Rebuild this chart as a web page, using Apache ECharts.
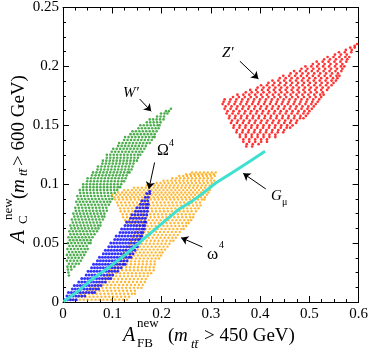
<!DOCTYPE html>
<html>
<head>
<meta charset="utf-8">
<script src="https://cdn.jsdelivr.net/npm/echarts@6/dist/echarts.min.js"></script>
<style>
  html, body { margin: 0; padding: 0; background: #fff; }
  #chart { width: 371px; height: 352px; }
</style>
</head>
<body>
<div id="chart"></div>
<script>
// W' scan points
var wPrime = [
  [.012,.0225],[.011,.025],
  [.010,.0275],[.017,.0275],
  [.009,.030],[.016,.030],[.023,.030],
  [.012,.0325],[.019,.0325],[.026,.0325],[.032,.0325],
  [.008,.035],[.015,.035],[.022,.035],[.029,.035],[.036,.035],
  [.011,.0375],[.018,.0375],[.025,.0375],[.032,.0375],[.039,.0375],
  [.008,.040],[.015,.040],[.022,.040],[.029,.040],[.036,.040],[.043,.040],
  [.012,.0425],[.019,.0425],[.026,.0425],[.033,.0425],[.040,.0425],[.046,.0425],
  [.009,.045],[.016,.045],[.023,.045],[.030,.045],[.037,.045],[.044,.045],[.050,.045],
  [.013,.0475],[.020,.0475],[.027,.0475],[.034,.0475],[.041,.0475],[.048,.0475],
  [.010,.050],[.017,.050],[.024,.050],[.031,.050],[.038,.050],[.045,.050],[.052,.050],[.056,.050],
  [.014,.0525],[.021,.0525],[.028,.0525],[.035,.0525],[.042,.0525],[.049,.0525],[.056,.0525],
  [.011,.055],[.018,.055],[.025,.055],[.032,.055],[.039,.055],[.046,.055],[.053,.055],[.060,.055],
  [.015,.0575],[.022,.0575],[.029,.0575],[.036,.0575],[.043,.0575],[.050,.0575],[.057,.0575],[.064,.0575],
  [.013,.060],[.020,.060],[.027,.060],[.034,.060],[.041,.060],[.048,.060],[.055,.060],[.062,.060],[.069,.060],
  [.017,.0625],[.024,.0625],[.031,.0625],[.038,.0625],[.045,.0625],[.052,.0625],[.059,.0625],[.066,.0625],[.072,.0625],
  [.015,.065],[.022,.065],[.029,.065],[.036,.065],[.043,.065],[.050,.065],[.057,.065],[.064,.065],[.071,.065],[.076,.065],
  [.020,.0675],[.027,.0675],[.034,.0675],[.041,.0675],[.048,.0675],[.055,.0675],[.062,.0675],[.069,.0675],[.076,.0675],
  [.018,.070],[.025,.070],[.032,.070],[.039,.070],[.046,.070],[.053,.070],[.060,.070],[.067,.070],[.074,.070],[.081,.070],
  [.023,.0725],[.030,.0725],[.037,.0725],[.044,.0725],[.051,.0725],[.058,.0725],[.065,.0725],[.072,.0725],[.079,.0725],[.084,.0725],
  [.021,.075],[.028,.075],[.035,.075],[.042,.075],[.049,.075],[.056,.075],[.063,.075],[.070,.075],[.077,.075],[.084,.075],
  [.026,.0775],[.033,.0775],[.040,.0775],[.047,.0775],[.054,.0775],[.061,.0775],[.068,.0775],[.075,.0775],[.082,.0775],[.089,.0775],
  [.025,.080],[.032,.080],[.039,.080],[.046,.080],[.053,.080],[.060,.080],[.067,.080],[.074,.080],[.081,.080],[.088,.080],
  [.030,.0825],[.037,.0825],[.044,.0825],[.051,.0825],[.058,.0825],[.065,.0825],[.072,.0825],[.079,.0825],[.086,.0825],[.093,.0825],
  [.027,.085],[.034,.085],[.041,.085],[.048,.085],[.055,.085],[.062,.085],[.069,.085],[.076,.085],[.083,.085],[.090,.085],[.096,.085],
  [.031,.0875],[.038,.0875],[.045,.0875],[.052,.0875],[.059,.0875],[.066,.0875],[.073,.0875],[.080,.0875],[.087,.0875],[.094,.0875],[.100,.0875],
  [.029,.090],[.036,.090],[.043,.090],[.050,.090],[.057,.090],[.064,.090],[.071,.090],[.078,.090],[.085,.090],[.092,.090],[.099,.090],
  [.035,.0925],[.042,.0925],[.049,.0925],[.056,.0925],[.063,.0925],[.070,.0925],[.077,.0925],[.084,.0925],[.091,.0925],[.098,.0925],[.105,.0925],
  [.034,.095],[.041,.095],[.048,.095],[.055,.095],[.062,.095],[.069,.095],[.076,.095],[.083,.095],[.090,.095],[.097,.095],[.104,.095],[.110,.095],
  [.041,.0975],[.048,.0975],[.055,.0975],[.062,.0975],[.069,.0975],[.076,.0975],[.083,.0975],[.090,.0975],[.097,.0975],[.104,.0975],[.111,.0975],[.116,.0975],
  [.041,.100],[.048,.100],[.055,.100],[.062,.100],[.069,.100],[.076,.100],[.083,.100],[.090,.100],[.097,.100],[.104,.100],[.111,.100],[.118,.100],
  [.049,.1025],[.056,.1025],[.063,.1025],[.070,.1025],[.077,.1025],[.084,.1025],[.091,.1025],[.098,.1025],[.105,.1025],[.112,.1025],[.119,.1025],[.124,.1025],
  [.050,.105],[.057,.105],[.064,.105],[.071,.105],[.078,.105],[.085,.105],[.092,.105],[.099,.105],[.106,.105],[.113,.105],[.120,.105],[.127,.105],
  [.059,.1075],[.066,.1075],[.073,.1075],[.080,.1075],[.087,.1075],[.094,.1075],[.101,.1075],[.108,.1075],[.115,.1075],[.122,.1075],[.129,.1075],
  [.061,.110],[.068,.110],[.075,.110],[.082,.110],[.089,.110],[.096,.110],[.103,.110],[.110,.110],[.117,.110],[.124,.110],[.131,.110],[.135,.110],
  [.070,.1125],[.077,.1125],[.084,.1125],[.091,.1125],[.098,.1125],[.105,.1125],[.112,.1125],[.119,.1125],[.126,.1125],[.133,.1125],[.139,.1125],
  [.071,.115],[.078,.115],[.085,.115],[.092,.115],[.099,.115],[.106,.115],[.113,.115],[.120,.115],[.127,.115],[.134,.115],[.141,.115],
  [.080,.1175],[.087,.1175],[.094,.1175],[.101,.1175],[.108,.1175],[.115,.1175],[.122,.1175],[.129,.1175],[.136,.1175],[.143,.1175],
  [.081,.120],[.088,.120],[.095,.120],[.102,.120],[.109,.120],[.116,.120],[.123,.120],[.130,.120],[.137,.120],[.144,.120],[.150,.120],
  [.089,.1225],[.096,.1225],[.103,.1225],[.110,.1225],[.117,.1225],[.124,.1225],[.131,.1225],[.138,.1225],[.145,.1225],[.152,.1225],
  [.089,.125],[.096,.125],[.103,.125],[.110,.125],[.117,.125],[.124,.125],[.131,.125],[.138,.125],[.145,.125],[.152,.125],[.157,.125],
  [.099,.1275],[.106,.1275],[.113,.1275],[.120,.1275],[.127,.1275],[.134,.1275],[.141,.1275],[.148,.1275],[.155,.1275],[.161,.1275],
  [.102,.130],[.109,.130],[.116,.130],[.123,.130],[.130,.130],[.137,.130],[.144,.130],[.151,.130],[.158,.130],[.165,.130],
  [.112,.1325],[.119,.1325],[.126,.1325],[.133,.1325],[.140,.1325],[.147,.1325],[.154,.1325],[.161,.1325],[.168,.1325],
  [.114,.135],[.121,.135],[.128,.135],[.135,.135],[.142,.135],[.149,.135],[.156,.135],[.163,.135],[.170,.135],[.176,.135],
  [.124,.1375],[.131,.1375],[.138,.1375],[.145,.1375],[.152,.1375],[.159,.1375],[.166,.1375],[.173,.1375],[.180,.1375],
  [.126,.140],[.133,.140],[.140,.140],[.147,.140],[.154,.140],[.161,.140],[.168,.140],[.175,.140],[.182,.140],[.186,.140],
  [.137,.1425],[.144,.1425],[.151,.1425],[.158,.1425],[.165,.1425],[.172,.1425],[.179,.1425],[.186,.1425],
  [.141,.145],[.148,.145],[.155,.145],[.162,.145],[.169,.145],[.176,.145],[.183,.145],[.190,.145],
  [.153,.1475],[.160,.1475],[.167,.1475],[.174,.1475],[.181,.1475],[.188,.1475],[.194,.1475],
  [.157,.150],[.164,.150],[.171,.150],[.178,.150],[.185,.150],[.192,.150],[.196,.150],
  [.170,.1525],[.177,.1525],[.184,.1525],[.191,.1525],[.198,.1525],
  [.176,.155],[.183,.155],[.190,.155],[.197,.155],[.204,.155],
  [.191,.1575],[.198,.1575],[.205,.1575],
  [.199,.160],[.206,.160],[.212,.160],
  [.209,.162],[.215,.162],
  [.219,.164]
];

// omega^4 scan points
var omegaSmall = [
  [.018,.002],[.026,.002],[.034,.002],[.042,.002],[.050,.002],[.058,.002],[.066,.002],[.074,.002],[.082,.002],[.090,.002],[.098,.002],[.106,.002],[.114,.002],[.122,.002],[.130,.002],
  [.030,.0045],[.038,.0045],[.046,.0045],[.054,.0045],[.062,.0045],[.070,.0045],[.078,.0045],[.086,.0045],[.094,.0045],[.102,.0045],[.110,.0045],[.118,.0045],[.126,.0045],[.134,.0045],
  [.036,.007],[.044,.007],[.052,.007],[.060,.007],[.068,.007],[.076,.007],[.084,.007],[.092,.007],[.100,.007],[.108,.007],[.116,.007],[.124,.007],[.132,.007],[.140,.007],[.146,.007],
  [.050,.0095],[.058,.0095],[.066,.0095],[.074,.0095],[.082,.0095],[.090,.0095],[.098,.0095],[.106,.0095],[.114,.0095],[.122,.0095],[.130,.0095],[.138,.0095],[.146,.0095],
  [.056,.012],[.064,.012],[.072,.012],[.080,.012],[.088,.012],[.096,.012],[.104,.012],[.112,.012],[.120,.012],[.128,.012],[.136,.012],[.144,.012],[.152,.012],[.159,.012],
  [.066,.0145],[.074,.0145],[.082,.0145],[.090,.0145],[.098,.0145],[.106,.0145],[.114,.0145],[.122,.0145],[.130,.0145],[.138,.0145],[.146,.0145],[.154,.0145],[.162,.0145],
  [.070,.017],[.078,.017],[.086,.017],[.094,.017],[.102,.017],[.110,.017],[.118,.017],[.126,.017],[.134,.017],[.142,.017],[.150,.017],[.158,.017],[.166,.017],
  [.080,.0195],[.088,.0195],[.096,.0195],[.104,.0195],[.112,.0195],[.120,.0195],[.128,.0195],[.136,.0195],[.144,.0195],[.152,.0195],[.160,.0195],[.168,.0195],
  [.084,.022],[.092,.022],[.100,.022],[.108,.022],[.116,.022],[.124,.022],[.132,.022],[.140,.022],[.148,.022],[.156,.022],[.164,.022],[.172,.022],
  [.092,.0245],[.100,.0245],[.108,.0245],[.116,.0245],[.124,.0245],[.132,.0245],[.140,.0245],[.148,.0245],[.156,.0245],[.164,.0245],[.172,.0245],[.179,.0245],
  [.096,.027],[.104,.027],[.112,.027],[.120,.027],[.128,.027],[.136,.027],[.144,.027],[.152,.027],[.160,.027],[.168,.027],[.176,.027],[.184,.027],
  [.104,.0295],[.112,.0295],[.120,.0295],[.128,.0295],[.136,.0295],[.144,.0295],[.152,.0295],[.160,.0295],[.168,.0295],[.176,.0295],[.184,.0295],
  [.106,.032],[.114,.032],[.122,.032],[.130,.032],[.138,.032],[.146,.032],[.154,.032],[.162,.032],[.170,.032],[.178,.032],[.186,.032],
  [.114,.0345],[.122,.0345],[.130,.0345],[.138,.0345],[.146,.0345],[.154,.0345],[.162,.0345],[.170,.0345],[.178,.0345],[.186,.0345],
  [.116,.037],[.124,.037],[.132,.037],[.140,.037],[.148,.037],[.156,.037],[.164,.037],[.172,.037],[.180,.037],[.188,.037],[.195,.037],
  [.120,.0395],[.128,.0395],[.136,.0395],[.144,.0395],[.152,.0395],[.160,.0395],[.168,.0395],[.176,.0395],[.184,.0395],[.192,.0395],[.199,.0395],
  [.124,.042],[.132,.042],[.140,.042],[.148,.042],[.156,.042],[.164,.042],[.172,.042],[.180,.042],[.188,.042],[.196,.042],[.202,.042],
  [.128,.0445],[.136,.0445],[.144,.0445],[.152,.0445],[.160,.0445],[.168,.0445],[.176,.0445],[.184,.0445],[.192,.0445],[.200,.0445],[.207,.0445],
  [.132,.047],[.140,.047],[.148,.047],[.156,.047],[.164,.047],[.172,.047],[.180,.047],[.188,.047],[.196,.047],[.204,.047],[.212,.047],
  [.136,.0495],[.144,.0495],[.152,.0495],[.160,.0495],[.168,.0495],[.176,.0495],[.184,.0495],[.192,.0495],[.200,.0495],[.208,.0495],[.216,.0495],
  [.138,.052],[.146,.052],[.154,.052],[.162,.052],[.170,.052],[.178,.052],[.186,.052],[.194,.052],[.202,.052],[.210,.052],[.218,.052],[.224,.052],
  [.142,.0545],[.150,.0545],[.158,.0545],[.166,.0545],[.174,.0545],[.182,.0545],[.190,.0545],[.198,.0545],[.206,.0545],[.214,.0545],[.222,.0545],[.229,.0545],
  [.145,.057],[.153,.057],[.161,.057],[.169,.057],[.177,.057],[.185,.057],[.193,.057],[.201,.057],[.209,.057],[.217,.057],[.225,.057],[.233,.057],
  [.149,.0595],[.157,.0595],[.165,.0595],[.173,.0595],[.181,.0595],[.189,.0595],[.197,.0595],[.205,.0595],[.213,.0595],[.221,.0595],[.229,.0595],[.237,.0595],
  [.152,.062],[.160,.062],[.168,.062],[.176,.062],[.184,.062],[.192,.062],[.200,.062],[.208,.062],[.216,.062],[.224,.062],[.232,.062],[.240,.062],[.245,.062],
  [.148,.0645],[.156,.0645],[.164,.0645],[.172,.0645],[.180,.0645],[.188,.0645],[.196,.0645],[.204,.0645],[.212,.0645],[.220,.0645],[.228,.0645],[.236,.0645],[.244,.0645],[.250,.0645],
  [.130,.067],[.138,.067],[.146,.067],[.154,.067],[.162,.067],[.170,.067],[.178,.067],[.186,.067],[.194,.067],[.202,.067],[.210,.067],[.218,.067],[.226,.067],[.234,.067],[.242,.067],[.250,.067],[.255,.067],
  [.126,.0695],[.134,.0695],[.142,.0695],[.150,.0695],[.158,.0695],[.166,.0695],[.174,.0695],[.182,.0695],[.190,.0695],[.198,.0695],[.206,.0695],[.214,.0695],[.222,.0695],[.230,.0695],[.238,.0695],[.246,.0695],[.254,.0695],[.260,.0695],
  [.122,.072],[.130,.072],[.138,.072],[.146,.072],[.154,.072],[.162,.072],[.170,.072],[.178,.072],[.186,.072],[.194,.072],[.202,.072],[.210,.072],[.218,.072],[.226,.072],[.234,.072],[.242,.072],[.250,.072],[.258,.072],[.264,.072],
  [.121,.0745],[.129,.0745],[.137,.0745],[.145,.0745],[.153,.0745],[.161,.0745],[.169,.0745],[.177,.0745],[.185,.0745],[.193,.0745],[.201,.0745],[.209,.0745],[.217,.0745],[.225,.0745],[.233,.0745],[.241,.0745],[.249,.0745],[.257,.0745],[.265,.0745],
  [.117,.077],[.125,.077],[.133,.077],[.141,.077],[.149,.077],[.157,.077],[.165,.077],[.173,.077],[.181,.077],[.189,.077],[.197,.077],[.205,.077],[.213,.077],[.221,.077],[.229,.077],[.237,.077],[.245,.077],[.253,.077],[.261,.077],[.270,.077],
  [.116,.0795],[.124,.0795],[.132,.0795],[.140,.0795],[.148,.0795],[.156,.0795],[.164,.0795],[.172,.0795],[.180,.0795],[.188,.0795],[.196,.0795],[.204,.0795],[.212,.0795],[.220,.0795],[.228,.0795],[.236,.0795],[.244,.0795],[.252,.0795],[.260,.0795],[.268,.0795],[.275,.0795],
  [.112,.082],[.120,.082],[.128,.082],[.136,.082],[.144,.082],[.152,.082],[.160,.082],[.168,.082],[.176,.082],[.184,.082],[.192,.082],[.200,.082],[.208,.082],[.216,.082],[.224,.082],[.232,.082],[.240,.082],[.248,.082],[.256,.082],[.264,.082],[.272,.082],[.279,.082],
  [.110,.0845],[.118,.0845],[.126,.0845],[.134,.0845],[.142,.0845],[.150,.0845],[.158,.0845],[.166,.0845],[.174,.0845],[.182,.0845],[.190,.0845],[.198,.0845],[.206,.0845],[.214,.0845],[.222,.0845],[.230,.0845],[.238,.0845],[.246,.0845],[.254,.0845],[.262,.0845],[.270,.0845],[.278,.0845],
  [.106,.087],[.114,.087],[.122,.087],[.130,.087],[.138,.087],[.146,.087],[.154,.087],[.162,.087],[.170,.087],[.178,.087],[.186,.087],[.194,.087],[.202,.087],[.210,.087],[.218,.087],[.226,.087],[.234,.087],[.242,.087],[.250,.087],[.258,.087],[.266,.087],[.274,.087],[.282,.087],[.287,.087],
  [.104,.089],[.112,.089],[.120,.089],[.128,.089],[.136,.089],[.144,.089],[.152,.089],[.160,.089],[.168,.089],[.176,.089],[.184,.089],[.192,.089],[.200,.089],[.208,.089],[.216,.089],[.224,.089],[.232,.089],[.240,.089],[.248,.089],[.256,.089],[.264,.089],[.272,.089],[.280,.089],[.288,.089],
  [.100,.091],[.108,.091],[.116,.091],[.124,.091],[.132,.091],[.140,.091],[.148,.091],[.156,.091],[.164,.091],[.172,.091],[.180,.091],[.188,.091],[.196,.091],[.204,.091],[.212,.091],[.220,.091],[.228,.091],[.236,.091],[.244,.091],[.252,.091],[.260,.091],[.268,.091],[.276,.091],[.284,.091],[.292,.091],
  [.112,.093],[.120,.093],[.128,.093],[.136,.093],[.144,.093],[.152,.093],[.160,.093],[.168,.093],[.176,.093],[.184,.093],[.192,.093],[.200,.093],[.208,.093],[.216,.093],[.224,.093],[.232,.093],[.240,.093],[.248,.093],[.256,.093],[.264,.093],[.272,.093],[.280,.093],[.288,.093],[.295,.093],
  [.124,.095],[.132,.095],[.140,.095],[.148,.095],[.156,.095],[.164,.095],[.172,.095],[.180,.095],[.188,.095],[.196,.095],[.204,.095],[.212,.095],[.220,.095],[.228,.095],[.236,.095],[.244,.095],[.252,.095],[.260,.095],[.268,.095],[.276,.095],[.284,.095],[.292,.095],[.298,.095],
  [.144,.097],[.152,.097],[.160,.097],[.168,.097],[.176,.097],[.184,.097],[.192,.097],[.200,.097],[.208,.097],[.216,.097],[.224,.097],[.232,.097],[.240,.097],[.248,.097],[.256,.097],[.264,.097],[.272,.097],[.280,.097],[.288,.097],[.296,.097],
  [.170,.099],[.178,.099],[.186,.099],[.194,.099],[.202,.099],[.210,.099],[.218,.099],[.226,.099],[.234,.099],[.242,.099],[.250,.099],[.258,.099],[.266,.099],[.274,.099],[.282,.099],[.290,.099],[.298,.099],[.303,.099],
  [.190,.101],[.198,.101],[.206,.101],[.214,.101],[.222,.101],[.230,.101],[.238,.101],[.246,.101],[.254,.101],[.262,.101],[.270,.101],[.278,.101],[.286,.101],[.294,.101],[.302,.101],
  [.204,.103],[.212,.103],[.220,.103],[.228,.103],[.236,.103],[.244,.103],[.252,.103],[.260,.103],[.268,.103],[.276,.103],[.284,.103],[.292,.103],[.300,.103],[.307,.103],
  [.222,.105],[.230,.105],[.238,.105],[.246,.105],[.254,.105],[.262,.105],[.270,.105],[.278,.105],[.286,.105],[.294,.105],[.302,.105],
  [.236,.107],[.244,.107],[.252,.107],[.260,.107],[.268,.107],[.276,.107],[.284,.107],[.292,.107],[.300,.107],[.308,.107],
  [.250,.1085],[.258,.1085],[.266,.1085],[.274,.1085],[.282,.1085],[.290,.1085],[.298,.1085],[.306,.1085],
  [.262,.110],[.270,.110],[.278,.110],[.286,.110],[.294,.110],[.302,.110],[.310,.110]
];

// Omega^4 scan points
var omegaBig = [
  [.003,.002],[.009,.002],[.015,.002],[.021,.002],[.027,.002],
  [.008,.005],[.014,.005],[.020,.005],[.026,.005],[.032,.005],[.038,.005],[.044,.005],
  [.011,.008],[.017,.008],[.023,.008],[.029,.008],[.035,.008],[.041,.008],[.047,.008],[.053,.008],[.059,.008],[.064,.008],
  [.019,.011],[.025,.011],[.031,.011],[.037,.011],[.043,.011],[.049,.011],[.055,.011],[.061,.011],[.067,.011],[.072,.011],
  [.023,.014],[.029,.014],[.035,.014],[.041,.014],[.047,.014],[.053,.014],[.059,.014],[.065,.014],[.071,.014],[.077,.014],
  [.032,.017],[.038,.017],[.044,.017],[.050,.017],[.056,.017],[.062,.017],[.068,.017],[.074,.017],[.080,.017],[.086,.017],
  [.038,.020],[.044,.020],[.050,.020],[.056,.020],[.062,.020],[.068,.020],[.074,.020],[.080,.020],[.086,.020],[.092,.020],[.097,.020],
  [.047,.023],[.053,.023],[.059,.023],[.065,.023],[.071,.023],[.077,.023],[.083,.023],[.089,.023],[.095,.023],[.101,.023],
  [.051,.026],[.057,.026],[.063,.026],[.069,.026],[.075,.026],[.081,.026],[.087,.026],[.093,.026],[.099,.026],[.105,.026],[.111,.026],
  [.058,.029],[.064,.029],[.070,.029],[.076,.029],[.082,.029],[.088,.029],[.094,.029],[.100,.029],[.106,.029],[.112,.029],[.118,.029],
  [.062,.032],[.068,.032],[.074,.032],[.080,.032],[.086,.032],[.092,.032],[.098,.032],[.104,.032],[.110,.032],[.116,.032],[.122,.032],[.126,.032],
  [.070,.035],[.076,.035],[.082,.035],[.088,.035],[.094,.035],[.100,.035],[.106,.035],[.112,.035],[.118,.035],[.124,.035],[.130,.035],
  [.074,.038],[.080,.038],[.086,.038],[.092,.038],[.098,.038],[.104,.038],[.110,.038],[.116,.038],[.122,.038],[.128,.038],[.134,.038],[.138,.038],
  [.082,.041],[.088,.041],[.094,.041],[.100,.041],[.106,.041],[.112,.041],[.118,.041],[.124,.041],[.130,.041],[.136,.041],[.142,.041],
  [.086,.044],[.092,.044],[.098,.044],[.104,.044],[.110,.044],[.116,.044],[.122,.044],[.128,.044],[.134,.044],[.140,.044],[.146,.044],
  [.093,.047],[.099,.047],[.105,.047],[.111,.047],[.117,.047],[.123,.047],[.129,.047],[.135,.047],[.141,.047],[.147,.047],[.151,.047],
  [.097,.050],[.103,.050],[.109,.050],[.115,.050],[.121,.050],[.127,.050],[.133,.050],[.139,.050],[.145,.050],[.151,.050],[.155,.050],
  [.105,.053],[.111,.053],[.117,.053],[.123,.053],[.129,.053],[.135,.053],[.141,.053],[.147,.053],[.153,.053],[.157,.053],
  [.108,.056],[.114,.056],[.120,.056],[.126,.056],[.132,.056],[.138,.056],[.144,.056],[.150,.056],[.156,.056],[.160,.056],
  [.116,.059],[.122,.059],[.128,.059],[.134,.059],[.140,.059],[.146,.059],[.152,.059],[.158,.059],[.162,.059],
  [.119,.062],[.125,.062],[.131,.062],[.137,.062],[.143,.062],[.149,.062],[.155,.062],[.161,.062],[.165,.062],
  [.126,.065],[.132,.065],[.138,.065],[.144,.065],[.150,.065],[.156,.065],[.162,.065],[.166,.065],
  [.129,.068],[.135,.068],[.141,.068],[.147,.068],[.153,.068],[.159,.068],[.165,.068],[.168,.068],
  [.137,.071],[.143,.071],[.149,.071],[.155,.071],[.161,.071],[.167,.071],
  [.140,.074],[.146,.074],[.152,.074],[.158,.074],[.164,.074],[.170,.074],
  [.147,.077],[.153,.077],[.159,.077],[.165,.077],[.171,.077],
  [.150,.080],[.156,.080],[.162,.080],[.168,.080],[.172,.080],
  [.157,.083],[.163,.083],[.169,.083],[.173,.083],
  [.160,.086],[.166,.086],[.172,.086],
  [.167,.089],[.173,.089],
  [.170,.092],[.176,.092],
  [.176,.094]
];

// G_mu curve
var gMu = [
  [.001,.0003],[.030,.009],[.061,.020],[.095,.030],[.129,.041],[.155,.0505],[.182,.060],
  [.210,.070],[.236,.079],[.260,.085],[.283,.092],[.310,.101],[.344,.110],[.381,.120],[.410,.128]
];

// Z' scan points
var zPrime = [
  [.372,.132],[.384,.132],
  [.373,.134],[.385,.134],[.397,.134],
  [.366,.136],[.378,.136],[.390,.136],[.402,.136],[.414,.136],
  [.366,.138],[.378,.138],[.390,.138],[.402,.138],[.414,.138],
  [.359,.140],[.371,.140],[.383,.140],[.395,.140],[.407,.140],[.419,.140],[.431,.140],
  [.359,.142],[.371,.142],[.383,.142],[.395,.142],[.407,.142],[.419,.142],[.431,.142],
  [.352,.144],[.364,.144],[.376,.144],[.388,.144],[.400,.144],[.412,.144],[.424,.144],[.436,.144],[.447,.144],
  [.353,.146],[.365,.146],[.377,.146],[.389,.146],[.401,.146],[.413,.146],[.425,.146],[.437,.146],[.449,.146],
  [.346,.148],[.358,.148],[.370,.148],[.382,.148],[.394,.148],[.406,.148],[.418,.148],[.430,.148],[.442,.148],[.454,.148],[.461,.148],
  [.347,.150],[.359,.150],[.371,.150],[.383,.150],[.395,.150],[.407,.150],[.419,.150],[.431,.150],[.443,.150],[.455,.150],[.466,.150],
  [.341,.152],[.353,.152],[.365,.152],[.377,.152],[.389,.152],[.401,.152],[.413,.152],[.425,.152],[.437,.152],[.449,.152],[.461,.152],[.473,.152],
  [.343,.154],[.355,.154],[.367,.154],[.379,.154],[.391,.154],[.403,.154],[.415,.154],[.427,.154],[.439,.154],[.451,.154],[.463,.154],[.475,.154],
  [.337,.156],[.349,.156],[.361,.156],[.373,.156],[.385,.156],[.397,.156],[.409,.156],[.421,.156],[.433,.156],[.445,.156],[.457,.156],[.469,.156],[.481,.156],[.488,.156],
  [.338,.158],[.350,.158],[.362,.158],[.374,.158],[.386,.158],[.398,.158],[.410,.158],[.422,.158],[.434,.158],[.446,.158],[.458,.158],[.470,.158],[.482,.158],[.493,.158],
  [.332,.160],[.344,.160],[.356,.160],[.368,.160],[.380,.160],[.392,.160],[.404,.160],[.416,.160],[.428,.160],[.440,.160],[.452,.160],[.464,.160],[.476,.160],[.488,.160],[.497,.160],
  [.334,.162],[.346,.162],[.358,.162],[.370,.162],[.382,.162],[.394,.162],[.406,.162],[.418,.162],[.430,.162],[.442,.162],[.454,.162],[.466,.162],[.478,.162],[.490,.162],[.500,.162],
  [.328,.164],[.340,.164],[.352,.164],[.364,.164],[.376,.164],[.388,.164],[.400,.164],[.412,.164],[.424,.164],[.436,.164],[.448,.164],[.460,.164],[.472,.164],[.484,.164],[.496,.164],[.505,.164],
  [.330,.166],[.342,.166],[.354,.166],[.366,.166],[.378,.166],[.390,.166],[.402,.166],[.414,.166],[.426,.166],[.438,.166],[.450,.166],[.462,.166],[.474,.166],[.486,.166],[.498,.166],[.509,.166],
  [.324,.168],[.336,.168],[.348,.168],[.360,.168],[.372,.168],[.384,.168],[.396,.168],[.408,.168],[.420,.168],[.432,.168],[.444,.168],[.456,.168],[.468,.168],[.480,.168],[.492,.168],[.504,.168],[.513,.168],
  [.326,.170],[.338,.170],[.350,.170],[.362,.170],[.374,.170],[.386,.170],[.398,.170],[.410,.170],[.422,.170],[.434,.170],[.446,.170],[.458,.170],[.470,.170],[.482,.170],[.494,.170],[.506,.170],[.517,.170],
  [.328,.172],[.340,.172],[.352,.172],[.364,.172],[.376,.172],[.388,.172],[.400,.172],[.412,.172],[.424,.172],[.436,.172],[.448,.172],[.460,.172],[.472,.172],[.484,.172],[.496,.172],[.508,.172],[.520,.172],
  [.345,.174],[.357,.174],[.369,.174],[.381,.174],[.393,.174],[.405,.174],[.417,.174],[.429,.174],[.441,.174],[.453,.174],[.465,.174],[.477,.174],[.489,.174],[.501,.174],[.513,.174],[.524,.174],
  [.354,.176],[.366,.176],[.378,.176],[.390,.176],[.402,.176],[.414,.176],[.426,.176],[.438,.176],[.450,.176],[.462,.176],[.474,.176],[.486,.176],[.498,.176],[.510,.176],[.522,.176],[.529,.176],
  [.371,.178],[.383,.178],[.395,.178],[.407,.178],[.419,.178],[.431,.178],[.443,.178],[.455,.178],[.467,.178],[.479,.178],[.491,.178],[.503,.178],[.515,.178],[.527,.178],
  [.380,.180],[.392,.180],[.404,.180],[.416,.180],[.428,.180],[.440,.180],[.452,.180],[.464,.180],[.476,.180],[.488,.180],[.500,.180],[.512,.180],[.524,.180],[.536,.180],
  [.395,.182],[.407,.182],[.419,.182],[.431,.182],[.443,.182],[.455,.182],[.467,.182],[.479,.182],[.491,.182],[.503,.182],[.515,.182],[.527,.182],[.539,.182],
  [.402,.184],[.414,.184],[.426,.184],[.438,.184],[.450,.184],[.462,.184],[.474,.184],[.486,.184],[.498,.184],[.510,.184],[.522,.184],[.534,.184],[.545,.184],
  [.417,.186],[.429,.186],[.441,.186],[.453,.186],[.465,.186],[.477,.186],[.489,.186],[.501,.186],[.513,.186],[.525,.186],[.537,.186],[.549,.186],
  [.425,.188],[.437,.188],[.449,.188],[.461,.188],[.473,.188],[.485,.188],[.497,.188],[.509,.188],[.521,.188],[.533,.188],[.545,.188],[.554,.188],
  [.440,.190],[.452,.190],[.464,.190],[.476,.190],[.488,.190],[.500,.190],[.512,.190],[.524,.190],[.536,.190],[.548,.190],[.557,.190],
  [.447,.192],[.459,.192],[.471,.192],[.483,.192],[.495,.192],[.507,.192],[.519,.192],[.531,.192],[.543,.192],[.555,.192],[.561,.192],
  [.462,.194],[.474,.194],[.486,.194],[.498,.194],[.510,.194],[.522,.194],[.534,.194],[.546,.194],[.558,.194],
  [.469,.196],[.481,.196],[.493,.196],[.505,.196],[.517,.196],[.529,.196],[.541,.196],[.553,.196],[.565,.196],
  [.484,.198],[.496,.198],[.508,.198],[.520,.198],[.532,.198],[.544,.198],[.556,.198],[.567,.198],
  [.492,.200],[.504,.200],[.516,.200],[.528,.200],[.540,.200],[.552,.200],[.564,.200],[.571,.200],
  [.507,.202],[.519,.202],[.531,.202],[.543,.202],[.555,.202],[.567,.202],
  [.515,.204],[.527,.204],[.539,.204],[.551,.204],[.563,.204],[.575,.204],
  [.530,.206],[.542,.206],[.554,.206],[.566,.206],[.577,.206],
  [.537,.208],[.549,.208],[.561,.208],[.573,.208],[.581,.208],
  [.552,.210],[.564,.210],[.576,.210],
  [.560,.212],[.572,.212],[.585,.212],
  [.574,.214],[.586,.214],
  [.583,.216],[.592,.216],
  [.592,.2175],[.597,.219]
];

// arrows: [fromX, fromY, toX, toY] in data units
var arrowLines = [
  [0.1556, 0.1723, 0.1790, 0.1619],  // W'
  [0.3590, 0.2044, 0.3966, 0.1894],  // Z'
  [0.1859, 0.1185, 0.1743, 0.0960],  // Omega^4
  [0.4115, 0.0960, 0.3657, 0.1092],  // G_mu
  [0.2828, 0.0467, 0.2398, 0.0546]   // omega^4
];

var serif = '"Liberation Serif", "DejaVu Serif", serif';

var chart = document.getElementById('chart');
var myChart = echarts.init(chart);

function axisOf(pos, isX, labels) {
  return {
    type: 'value',
    position: pos,
    min: 0,
    max: isX ? 0.6 : 0.25,
    interval: isX ? 0.1 : 0.05,
    axisLine: { show: true, onZero: false, lineStyle: { color: '#000', width: 1 } },
    axisTick: { show: true, inside: true, length: 6, lineStyle: { color: '#000' } },
    minorTick: { show: true, splitNumber: 4, length: 3, lineStyle: { color: '#000' } },
    splitLine: { show: false },
    axisLabel: { show: labels, color: '#000', fontFamily: serif, fontSize: 15, margin: isX ? 5 : 4 }
  };
}

function dots(name, data, color, size) {
  return {
    name: name, type: 'scatter', data: data, symbolSize: size,
    itemStyle: { color: color }, silent: true
  };
}

function txt(x, y, s, size, italic, rot) {
  var el = {
    type: 'text', x: x, y: y, silent: true,
    style: {
      text: s, fill: '#000', fontFamily: serif, fontSize: size,
      fontStyle: italic ? 'italic' : 'normal', align: 'left', verticalAlign: 'middle'
    }
  };
  if (rot) el.rotation = Math.PI / 2;
  return el;
}

option = {
  animation: false,
  backgroundColor: '#fff',
  grid: { left: 63, right: 11, top: 6, bottom: 50 },
  xAxis: [axisOf('bottom', true, true), axisOf('top', true, false)],
  yAxis: [axisOf('left', false, true), axisOf('right', false, false)],
  series: [
    dots('W\'', wPrime, '#1f9a1f', 2.6),
    dots('ω4', omegaSmall, '#ffa500', 2.4),
    dots('Ω4', omegaBig, '#0000ff', 3),
    {
      name: 'Gμ', type: 'line', data: gMu, showSymbol: false, symbol: 'none',
      lineStyle: { color: '#40e0d0', width: 3 }, silent: true,
      markLine: {
        silent: true, symbol: ['none', 'arrow'], symbolSize: 7,
        lineStyle: { color: '#000', width: 1, type: 'solid' },
        label: { show: false },
        data: arrowLines.map(function (a) {
          return [{ coord: [a[0], a[1]] }, { coord: [a[2], a[3]] }];
        })
      }
    },
    dots('Z\'', zPrime, '#ff0000', 2.7)
  ],
  graphic: [
    // x axis title
    txt(123, 336, 'A', 20, true),
    txt(137, 324, 'new', 13, false),
    txt(137, 344, 'FB', 13, false),
    txt(168, 336, '(', 19, false),
    txt(174, 336, 'm', 19, true),
    txt(191, 345, 'tt\u0304', 13, true),
    txt(204, 336, '> 450 GeV)', 19, false),
    // y axis title
    txt(18, 243, 'A', 21, true, true),
    txt(9, 220, 'new', 13, false, true),
    txt(24, 224, 'C', 13, false, true),
    txt(19, 199, '(', 19, false, true),
    txt(19, 193, 'm', 19, true, true),
    txt(24, 176, 'tt\u0304', 13, true, true),
    txt(19, 166, '> 600 GeV)', 19, false, true),
    // annotations
    txt(123, 93, 'W\u2032', 15, true),
    txt(222, 53, 'Z\u2032', 15, true),
    txt(157, 151, '\u03a9', 16, false),
    txt(169, 143, '4', 10, false),
    txt(271, 196, 'G', 15, true),
    txt(282, 202, '\u03bc', 10, false),
    txt(207, 255, '\u03c9', 17, false),
    txt(219, 245, '4', 10, false)
  ]
};

myChart.setOption(option);
</script>
</body>
</html>
